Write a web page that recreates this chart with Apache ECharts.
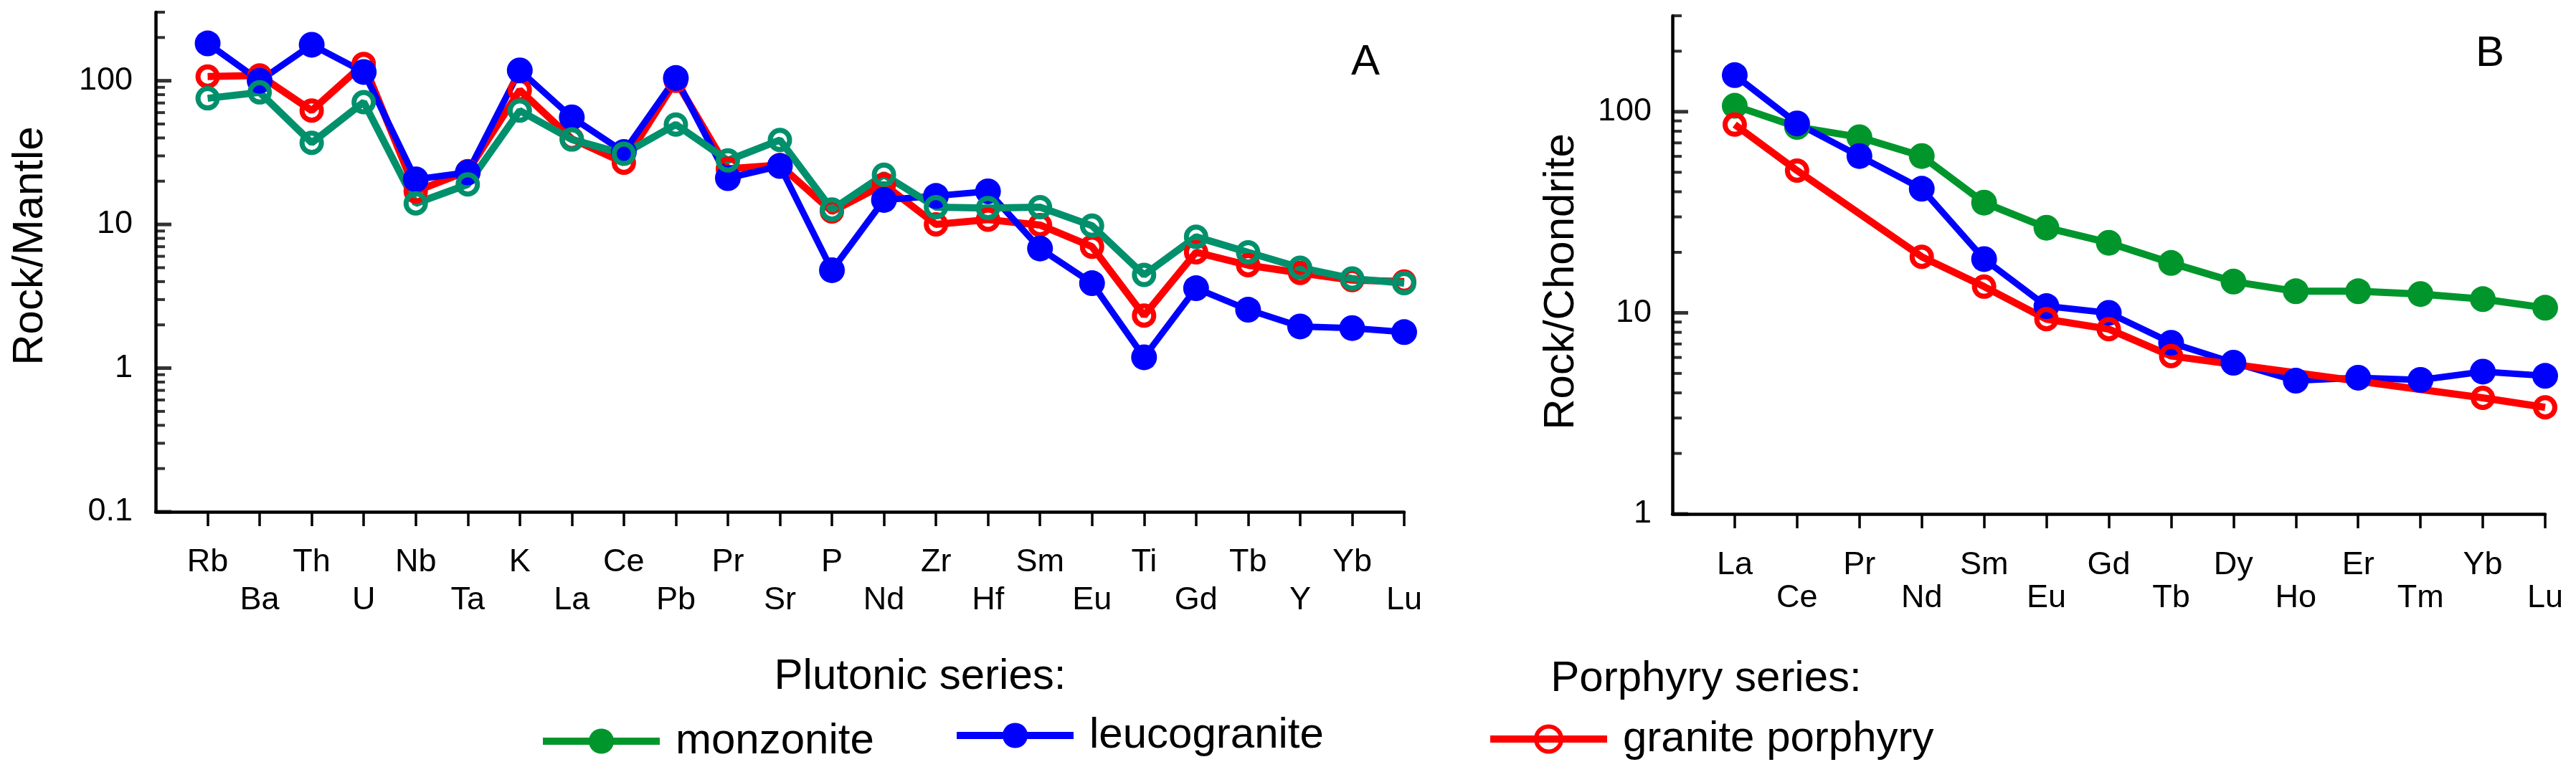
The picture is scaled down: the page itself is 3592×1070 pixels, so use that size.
<!DOCTYPE html>
<html>
<head>
<meta charset="utf-8">
<script src="https://cdn.jsdelivr.net/npm/echarts@6/dist/echarts.min.js"></script>
<style>
html,body{margin:0;padding:0;background:#ffffff;}
#chart{width:3592px;height:1070px;}
</style>
</head>
<body>
<div id="chart"></div>
<script>
// ---------- Data ----------
const elementsA = ['Rb','Ba','Th','U','Nb','Ta','K','La','Ce','Pb','Pr','Sr','P','Nd','Zr','Hf','Sm','Eu','Ti','Gd','Tb','Y','Yb','Lu'];
const monzoniteA   = [75.5, 83, 37, 71, 14, 19, 62, 39, 31, 49.6, 27.9, 38.7, 12.7, 22.2, 13.2, 13, 13.2, 9.8, 4.45, 8.2, 6.4, 5.0, 4.2, 3.9];
const leucograniteA = [182, 100, 178, 115, 20.6, 23, 118, 55.6, 31.9, 104.5, 21, 25.5, 4.8, 14.8, 15.8, 17.0, 6.8, 3.9, 1.19, 3.6, 2.55, 1.95, 1.9, 1.78];
const graniteA     = [107, 109, 62, 131, 17, 23.5, 86, 39.4, 26.9, 100, 24.4, 25.9, 12.3, 19, 10, 10.8, 9.9, 7.0, 2.32, 6.4, 5.2, 4.6, 4.1, 4.0];

const elementsB = ['La','Ce','Pr','Nd','Sm','Eu','Gd','Tb','Dy','Ho','Er','Tm','Yb','Lu'];
const monzoniteB    = [107, 84, 74.7, 60.2, 35.3, 26.5, 22.3, 17.7, 14.3, 12.8, 12.8, 12.4, 11.7, 10.6];
const leucograniteB = [152, 87.5, 60.2, 41.4, 18.5, 10.8, 10.0, 7.1, 5.65, 4.6, 4.76, 4.64, 5.1, 4.86];
const graniteB      = [86.3, 51, null, 19.0, 13.5, 9.3, 8.3, 6.1, null, null, null, null, 3.78, 3.39];

const yLabelsA = [0.1, 1, 10, 100];
const yLabelsB = [1, 10, 100];
const yMaxA = 300, yMinA = 0.1;
const yMaxB = 300, yMinB = 1;

// ---------- Helpers ----------
const FONT = '"Liberation Sans", Arial, Helvetica, sans-serif';
function minorTicks(min, max) {
  const out = [];
  for (let d = min; d < max; d *= 10) {
    for (let k = 2; k <= 9; k++) {
      const v = +(d * k).toPrecision(6);
      if (v <= max + 1e-9) out.push(v);
    }
  }
  return out;
}
// element i sits at x position i+1; x axis runs from 0 (the y axis) to n
function xAxisDef(gridIndex, names, margin, lh) {
  const pos = names.map((_, i) => i + 1);
  return {
    type: 'value', gridIndex: gridIndex, min: 0, max: names.length, position: 'bottom',
    axisLine: { show: true, onZero: false, lineStyle: { color: '#000', width: 4.5 } },
    axisTick: { show: true, inside: false, length: 20, customValues: pos, lineStyle: { color: '#000', width: 3.5 } },
    axisLabel: {
      show: true, customValues: pos, margin: margin,
      formatter: function (v) { const i = Math.round(v) - 1; return (i % 2 === 0 ? '' : '\n') + names[i]; },
      color: '#000', fontSize: 45, fontFamily: FONT, lineHeight: lh
    },
    splitLine: { show: false }, minorTick: { show: false }
  };
}
function yMain(gridIndex, min, max, labels, margin) {
  return {
    type: 'log', logBase: 10, gridIndex: gridIndex, min: min, max: max, position: 'left',
    axisLine: { show: true, onZero: false, lineStyle: { color: '#000', width: 4.5 } },
    axisTick: { show: false },
    axisLabel: {
      show: true, customValues: labels, margin: margin,
      formatter: function (v) { return v < 1 ? v.toFixed(1) : String(Math.round(v)); },
      color: '#000', fontSize: 45, fontFamily: FONT
    },
    splitLine: { show: false }, minorTick: { show: false }
  };
}
// inward y-axis ticks, placed through the axes' own scales at x = 0 (the y axis line)
function tickSeries(xi, yi, values, len, w) {
  return {
    type: 'scatter', xAxisIndex: xi, yAxisIndex: yi,
    data: values.map(v => [0, v]),
    symbol: 'rect', symbolSize: [len, w], symbolOffset: [len / 2, 0],
    itemStyle: { color: '#000' }, silent: true, clip: false,
    emphasis: { disabled: true }, animation: false, z: 1
  };
}
function ser(name, xi, yi, arr, color, filled, lw) {
  return {
    type: 'line', name: name, xAxisIndex: xi, yAxisIndex: yi,
    data: arr.map((v, i) => v == null ? [i + 1, '-'] : [i + 1, v]),
    connectNulls: true, showAllSymbol: true, clip: false,
    symbol: 'circle', symbolSize: filled ? 36 : 27,
    lineStyle: { color: color, width: lw },
    itemStyle: filled ? { color: color } : { color: 'rgba(255,255,255,0)', borderColor: color, borderWidth: 7 },
    emphasis: { disabled: true }, silent: true, animation: false, z: 2
  };
}

const GREEN_A = '#00906c', GREEN_B = '#00962c', BLUE = '#0000ff', RED = '#ff0000';

function legendDef(name, left, top, color, filled) {
  return {
    data: [name], left: left, top: top,
    orient: 'horizontal', padding: 0, itemWidth: 163, itemHeight: 44, itemGap: 0,
    selectedMode: false,
    lineStyle: { color: color, width: 10 },
    itemStyle: filled ? { color: color, borderWidth: 0 } : { color: 'rgba(255,255,255,0)', borderColor: color, borderWidth: 6 },
    textStyle: { fontSize: 60, fontFamily: FONT, color: '#000', lineHeight: 44, padding: [0, 0, 0, 17] }
  };
}

const option = {
  backgroundColor: '#ffffff',
  animation: false,
  textStyle: { fontFamily: FONT },
  grid: [
    { left: 217, top: 17, width: 1741, height: 697, containLabel: false, outerBoundsMode: 'none' },
    { left: 2332, top: 22, width: 1217, height: 695, containLabel: false, outerBoundsMode: 'none' }
  ],
  xAxis: [ xAxisDef(0, elementsA, 44, 53), xAxisDef(1, elementsB, 49, 46) ],
  yAxis: [ yMain(0, yMinA, yMaxA, yLabelsA, 32), yMain(1, yMinB, yMaxB, yLabelsB, 29) ],
  legend: [
    legendDef('monzonite', 752, 1004, GREEN_B, true),
    legendDef('leucogranite', 1329, 996, BLUE, true),
    legendDef('granite porphyry', 2073, 1001, RED, false)
  ],
  series: [
    // Panel B (green, blue, red drawn on top)
    ser('monzonite', 1, 1, monzoniteB, GREEN_B, true, 10),
    ser('leucogranite', 1, 1, leucograniteB, BLUE, true, 9),
    ser('granite porphyry', 1, 1, graniteB, RED, false, 10),
    // Panel A (red, blue, green drawn on top)
    ser('granite porphyry', 0, 0, graniteA, RED, false, 10),
    ser('leucogranite', 0, 0, leucograniteA, BLUE, true, 9),
    ser('monzonite', 0, 0, monzoniteA, GREEN_A, false, 10),
    // y-axis ticks (major and minor) for both panels
    tickSeries(0, 0, yLabelsA, 22, 5),
    tickSeries(0, 0, minorTicks(yMinA, yMaxA), 13, 4),
    tickSeries(1, 1, yLabelsB, 22, 5),
    tickSeries(1, 1, minorTicks(yMinB, yMaxB), 13, 4)
  ],
  graphic: [
    { type: 'text', x: 42, y: 343, rotation: Math.PI / 2, silent: true,
      style: { text: 'Rock/Mantle', fontSize: 60, fontFamily: FONT, fill: '#000', align: 'center', verticalAlign: 'middle' } },
    { type: 'text', x: 2177, y: 393, rotation: Math.PI / 2, silent: true,
      style: { text: 'Rock/Chondrite', fontSize: 60, fontFamily: FONT, fill: '#000', align: 'center', verticalAlign: 'middle' } },
    { type: 'text', x: 1904, y: 87, silent: true,
      style: { text: 'A', fontSize: 60, fontFamily: FONT, fill: '#000', align: 'center', verticalAlign: 'middle' } },
    { type: 'text', x: 3472, y: 75, silent: true,
      style: { text: 'B', fontSize: 60, fontFamily: FONT, fill: '#000', align: 'center', verticalAlign: 'middle' } },
    { type: 'text', x: 1283, y: 944, silent: true,
      style: { text: 'Plutonic series:', fontSize: 60, fontFamily: FONT, fill: '#000', align: 'center', verticalAlign: 'middle' } },
    { type: 'text', x: 2379, y: 947, silent: true,
      style: { text: 'Porphyry series:', fontSize: 60, fontFamily: FONT, fill: '#000', align: 'center', verticalAlign: 'middle' } }
  ]
};

const chart = echarts.init(document.getElementById('chart'), null, { renderer: 'canvas' });
chart.setOption(option);
</script>
</body>
</html>
